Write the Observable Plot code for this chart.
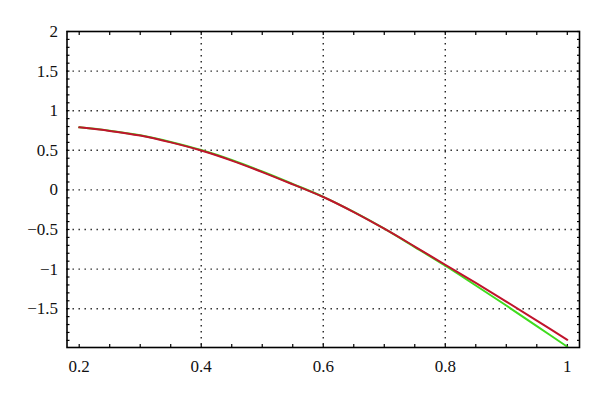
<!DOCTYPE html>
<html>
<head>
<meta charset="utf-8">
<script src="https://cdn.jsdelivr.net/npm/d3@7"></script>
<script src="https://cdn.jsdelivr.net/npm/@observablehq/plot@0.6"></script>
<style>
  html, body { margin: 0; padding: 0; background: #fff; }
  svg { display: block; }
</style>
</head>
<body>
<div id="chart"></div>
<script>
const xs = [0.20, 0.25, 0.30, 0.35, 0.40, 0.45, 0.50, 0.55, 0.60, 0.65, 0.70, 0.75, 0.80, 0.85, 0.90, 0.95, 1.00];
const redValues = [0.79, 0.745, 0.686, 0.600, 0.497, 0.370, 0.225, 0.070, -0.090, -0.280, -0.490, -0.715, -0.945, -1.175, -1.410, -1.650, -1.893];
const greenValues = [0.79, 0.748, 0.690, 0.605, 0.503, 0.378, 0.232, 0.075, -0.087, -0.278, -0.490, -0.722, -0.958, -1.207, -1.460, -1.720, -1.980];

const xTicks = [0.2, 0.4, 0.6, 0.8, 1];
const xTickLabels = ["0.2", "0.4", "0.6", "0.8", "1"];
const xGrid = [0.4, 0.6, 0.8];
const xMinorTicks = [0.2, 0.25, 0.3, 0.35, 0.4, 0.45, 0.5, 0.55, 0.6, 0.65, 0.7, 0.75, 0.8, 0.85, 0.9, 0.95, 1];
const yTicks = [2, 1.5, 1, 0.5, 0, -0.5, -1, -1.5];
const yTickLabels = ["2", "1.5", "1", "0.5", "0", "\u22120.5", "\u22121", "\u22121.5"];
const yGrid = [1.5, 1, 0.5, 0, -0.5, -1, -1.5];
const yMinorTicks = d3.range(-19, 21).map(i => i / 10);

const red = xs.map((x, i) => ({x, y: redValues[i]}));
const green = xs.map((x, i) => ({x, y: greenValues[i]}));

const font = "Liberation Serif, serif";
const tickOnly = {fill: "none", label: null, stroke: "#000", strokeWidth: 1.2};

const chart = Plot.plot({
  width: 600,
  height: 398,
  marginLeft: 66.5,
  marginRight: 21,
  marginTop: 31,
  marginBottom: 51,
  style: {background: "#fff"},
  x: {domain: [0.18, 1.02], axis: null},
  y: {domain: [-1.99, 2], axis: null},
  marks: [
    Plot.gridX(xGrid, {stroke: "#222", strokeOpacity: 1, strokeWidth: 1.4, strokeDasharray: "1.4,4.6"}),
    Plot.gridY(yGrid, {stroke: "#222", strokeOpacity: 1, strokeWidth: 1.4, strokeDasharray: "1.4,4.6"}),
    Plot.axisX(xMinorTicks, {anchor: "bottom", tickSize: -3, ...tickOnly}),
    Plot.axisX(xMinorTicks, {anchor: "top", tickSize: -3, ...tickOnly}),
    Plot.axisY(yMinorTicks, {anchor: "left", tickSize: -3, ...tickOnly}),
    Plot.axisY(yMinorTicks, {anchor: "right", tickSize: -3, ...tickOnly}),
    Plot.text(xTicks, {x: d => d, text: (d, i) => xTickLabels[i], frameAnchor: "bottom", dy: 19, lineAnchor: "middle", fontSize: 17, fontFamily: font, fill: "#111"}),
    Plot.text(yTicks, {y: d => d, text: (d, i) => yTickLabels[i], frameAnchor: "left", dx: -9, textAnchor: "end", lineAnchor: "middle", fontSize: 17, fontFamily: font, fill: "#111"}),
    Plot.line(green, {x: "x", y: "y", stroke: "#3fdc1e", strokeWidth: 2, curve: "catmull-rom"}),
    Plot.line(red, {x: "x", y: "y", stroke: "#c0142c", strokeWidth: 2, curve: "catmull-rom"}),
    Plot.frame({stroke: "#000", strokeWidth: 1.6})
  ]
});
chart.setAttribute("font-size", "17");
chart.setAttribute("font-family", "Liberation Serif, serif");
chart.querySelectorAll("text").forEach(t => {
  t.setAttribute("font-size", "17");
  t.setAttribute("font-family", "Liberation Serif, serif");
  t.style.fontSize = "17px";
  t.style.fontFamily = "'Liberation Serif', serif";
});
document.getElementById("chart").appendChild(chart);
</script>
</body>
</html>
